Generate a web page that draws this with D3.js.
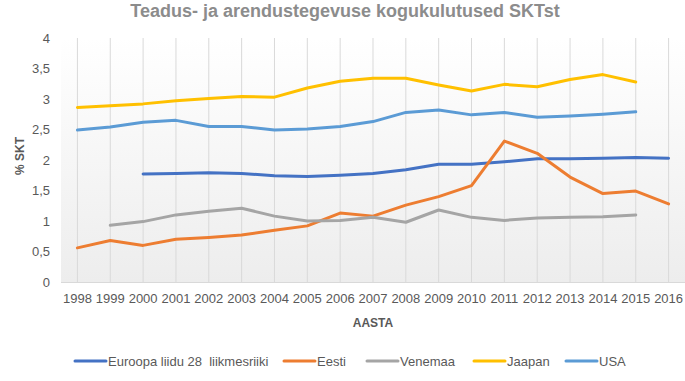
<!DOCTYPE html>
<html>
<head>
<meta charset="utf-8">
<script src="https://cdn.jsdelivr.net/npm/d3@7"></script>
<style>
  body { margin: 0; background: #fff; }
  svg { display: block; font-family: "Liberation Sans", Arial, sans-serif; }
</style>
</head>
<body>
<div class="canvas"></div>
<script>
// years on the x axis
const years = ['1998','1999','2000','2001','2002','2003','2004','2005','2006','2007',
    '2008','2009','2010','2011','2012','2013','2014','2015','2016'];

// series values (% of GDP), null = no data
const eu28 = [null, null, 1.77, 1.78, 1.79, 1.78, 1.74, 1.73, 1.75, 1.78,
    1.84, 1.93, 1.93, 1.97, 2.02, 2.02, 2.03, 2.04, 2.03];
const eesti = [0.56, 0.68, 0.60, 0.70, 0.73, 0.77, 0.85, 0.92, 1.13, 1.08,
    1.26, 1.40, 1.58, 2.31, 2.11, 1.72, 1.45, 1.49, 1.28];
const venemaa = [null, 0.93, 0.99, 1.10, 1.16, 1.21, 1.08, 1.00, 1.01, 1.06,
    0.98, 1.18, 1.06, 1.01, 1.05, 1.06, 1.07, 1.10, null];
const jaapan = [2.86, 2.89, 2.92, 2.97, 3.01, 3.04, 3.03, 3.18, 3.29, 3.34,
    3.34, 3.23, 3.13, 3.24, 3.20, 3.32, 3.40, 3.28, null];
const usa = [2.49, 2.54, 2.62, 2.65, 2.55, 2.55, 2.49, 2.51, 2.55, 2.63,
    2.78, 2.82, 2.74, 2.78, 2.70, 2.72, 2.75, 2.79, null];

const seriesNames = ['Euroopa liidu 28  liikmesriiki', 'Eesti', 'Venemaa', 'Jaapan', 'USA'];
const yTicks = [0, 0.5, 1, 1.5, 2, 2.5, 3, 3.5, 4];

const seriesList = [eu28, eesti, venemaa, jaapan, usa];
const colors = ['#4472c4', '#ed7d31', '#a5a5a5', '#ffc000', '#5b9bd5'];

const width = 685, height = 381;
const margin = {top: 38, right: 0, bottom: 99, left: 61};
const graphWidth = width - margin.left - margin.right;
const graphHeight = height - margin.top - margin.bottom;

const svg = d3.select('.canvas')
    .append('svg')
    .attr('width', width)
    .attr('height', height);

// background gradient for the plot area
const grad = svg.append('defs').append('linearGradient')
    .attr('id', 'bg')
    .attr('x1', 0).attr('y1', 0).attr('x2', 0).attr('y2', 1);
grad.append('stop').attr('offset', '0%').attr('stop-color', '#ffffff');
grad.append('stop').attr('offset', '100%').attr('stop-color', '#ededed');

const graph = svg.append('g')
    .attr('transform', `translate(${margin.left}, ${margin.top})`);

// scales
const x = d3.scaleBand()
    .domain(years)
    .range([0, graphWidth]);

const y = d3.scaleLinear()
    .domain([0, 4])
    .range([graphHeight, 0]);

const xc = d => x(d) + x.bandwidth() / 2;

graph.append('rect')
    .attr('width', graphWidth)
    .attr('height', graphHeight)
    .attr('fill', 'url(#bg)');

// vertical gridlines
graph.selectAll('line.grid')
    .data(years)
    .enter()
    .append('line')
    .attr('class', 'grid')
    .attr('x1', d => xc(d))
    .attr('x2', d => xc(d))
    .attr('y1', y(4))
    .attr('y2', y(0))
    .attr('stroke', '#d9d9d9')
    .attr('stroke-width', 1);

// axes
const xAxisGroup = graph.append('g')
    .attr('transform', `translate(0, ${graphHeight})`)
    .call(d3.axisBottom(x).tickSize(0).tickPadding(12));

xAxisGroup.select('.domain').attr('stroke', '#d9d9d9').attr('d', `M0,0.5H${graphWidth}`);
xAxisGroup.selectAll('text')
    .attr('fill', '#595959')
    .style('font-size', '13px');

const yAxisGroup = graph.append('g')
    .call(d3.axisLeft(y).tickValues(yTicks).tickSize(0).tickPadding(11)
        .tickFormat(d => String(d).replace('.', ',')));

yAxisGroup.select('.domain').remove();
yAxisGroup.selectAll('text')
    .attr('fill', '#595959')
    .style('font-size', '13px');

// lines
const line = d3.line()
    .defined(d => d.v !== null)
    .x(d => xc(d.year))
    .y(d => y(d.v));

seriesList.forEach((vals, i) => {
    const pts = years.map((yr, j) => ({year: yr, v: vals[j]}));
    graph.append('path')
        .datum(pts)
        .attr('fill', 'none')
        .attr('stroke', colors[i])
        .attr('stroke-width', 3)
        .attr('stroke-linejoin', 'round')
        .attr('stroke-linecap', 'round')
        .attr('d', line);
});

// title and axis titles
svg.append('text')
    .attr('x', 345)
    .attr('y', 17)
    .attr('text-anchor', 'middle')
    .attr('fill', '#8c8c8c')
    .style('font-size', '18px')
    .style('font-weight', 'bold')
    .text('Teadus- ja arendustegevuse kogukulutused SKTst');

svg.append('text')
    .attr('transform', `translate(24, 156) rotate(-90)`)
    .attr('text-anchor', 'middle')
    .attr('fill', '#595959')
    .style('font-size', '12px')
    .style('font-weight', 'bold')
    .text('% SKT');

svg.append('text')
    .attr('x', 373)
    .attr('y', 327)
    .attr('text-anchor', 'middle')
    .attr('fill', '#595959')
    .style('font-size', '12px')
    .style('font-weight', 'bold')
    .text('AASTA');

// legend
const legendX = [75, 284, 367, 474, 566];
const legend = svg.append('g').attr('transform', 'translate(0, 361)');
seriesNames.forEach((name, i) => {
    const item = legend.append('g').attr('transform', `translate(${legendX[i]}, 0)`);
    item.append('line')
        .attr('x1', 0).attr('x2', 31)
        .attr('y1', 0).attr('y2', 0)
        .attr('stroke', colors[i])
        .attr('stroke-width', 3)
        .attr('stroke-linecap', 'round');
    item.append('text')
        .attr('x', 33)
        .attr('y', 4.5)
        .attr('fill', '#595959')
        .style('font-size', '13px')
        .style('white-space', 'pre')
        .attr('xml:space', 'preserve')
        .text(name);
});
</script>
</body>
</html>
